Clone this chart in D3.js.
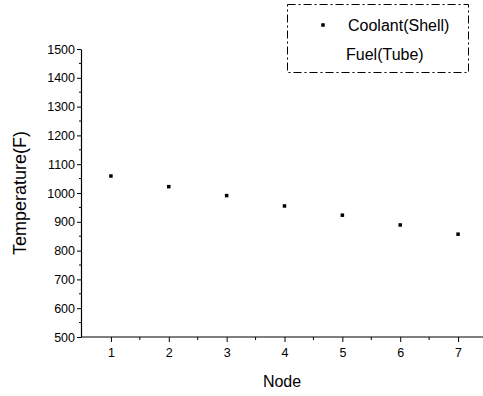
<!DOCTYPE html>
<html>
<head>
<meta charset="utf-8">
<script src="https://cdn.jsdelivr.net/npm/d3@7"></script>
<style>
  html, body { margin: 0; padding: 0; background: #fff; }
  svg { display: block; font-family: "Liberation Sans", Arial, sans-serif; }
</style>
</head>
<body>
<svg id="chart" width="483" height="396"></svg>
<script>
// Node numbers along the exchanger and the coolant temperature at each node
const nodes = [1, 2, 3, 4, 5, 6, 7];
const coolantTemp = [1059, 1022, 991, 955, 923, 889, 857];
const yTicks = [500, 600, 700, 800, 900, 1000, 1100, 1200, 1300, 1400, 1500];
const legendLabels = ["Coolant(Shell)", "Fuel(Tube)"];

const svg = d3.select("#chart");
const x = d3.scaleLinear().domain([0.5, 7.5]).range([82, 487]);
const y = d3.scaleLinear().domain([500, 1500]).range([337, 49]);

// Y axis: majors every 100, minors every 50
const yAxis = d3.axisLeft(y).tickValues(yTicks).tickSize(4).tickSizeOuter(0).tickPadding(2)
  .tickFormat(d3.format("d"));
const gy = svg.append("g").attr("transform", "translate(81,0)").call(yAxis);
gy.select(".domain").attr("stroke", "#000").attr("stroke-width", 1.2);
gy.selectAll(".tick line").attr("stroke", "#000");
gy.selectAll(".tick text").attr("font-size", 12.5).attr("fill", "#000");
gy.append("g").selectAll("line")
  .data(d3.range(550, 1500, 100))
  .join("line")
  .attr("x1", -2).attr("x2", 0)
  .attr("y1", d => y(d)).attr("y2", d => y(d))
  .attr("stroke", "#000");

// X axis: majors at each node, minors halfway
const xAxis = d3.axisBottom(x).tickValues(nodes).tickSize(5).tickSizeOuter(0).tickPadding(6)
  .tickFormat(d3.format("d"));
const gx = svg.append("g").attr("transform", "translate(0,337)").call(xAxis);
gx.select(".domain").attr("d", "M81,0H483").attr("stroke", "#000").attr("stroke-width", 1.2);
gx.selectAll(".tick line").attr("stroke", "#000");
gx.selectAll(".tick text").attr("font-size", 12.5).attr("fill", "#000");
gx.append("g").selectAll("line")
  .data(d3.range(1.5, 7.5, 1))
  .join("line")
  .attr("x1", d => x(d)).attr("x2", d => x(d))
  .attr("y1", 0).attr("y2", 3)
  .attr("stroke", "#000");

// Axis titles
svg.append("text")
  .attr("transform", "translate(26,193) rotate(-90)")
  .attr("text-anchor", "middle")
  .attr("font-size", 18)
  .text("Temperature(F)");
svg.append("text")
  .attr("x", 282).attr("y", 387)
  .attr("text-anchor", "middle")
  .attr("font-size", 16)
  .text("Node");

// Coolant points
svg.append("g").selectAll("rect")
  .data(nodes.map((n, i) => ({ n, t: coolantTemp[i] })))
  .join("rect")
  .attr("x", d => x(d.n) - 1.75).attr("y", d => y(d.t) - 1.75)
  .attr("width", 3.5).attr("height", 3.5)
  .attr("fill", "#000");

// Legend
const lg = svg.append("g");
lg.append("rect")
  .attr("x", 287.5).attr("y", 4.5).attr("width", 181).attr("height", 68)
  .attr("fill", "none").attr("stroke", "#000").attr("stroke-width", 1)
  .attr("stroke-dasharray", "8,3,2,3");
lg.append("rect").attr("x", 321.25).attr("y", 23.25).attr("width", 3.5).attr("height", 3.5).attr("fill", "#000");
lg.selectAll("text.lab")
  .data(legendLabels)
  .join("text")
  .attr("class", "lab")
  .attr("x", (d, i) => 348 - i * 2).attr("y", (d, i) => 31 + i * 29)
  .attr("font-size", 16)
  .text(d => d);
</script>
</body>
</html>
